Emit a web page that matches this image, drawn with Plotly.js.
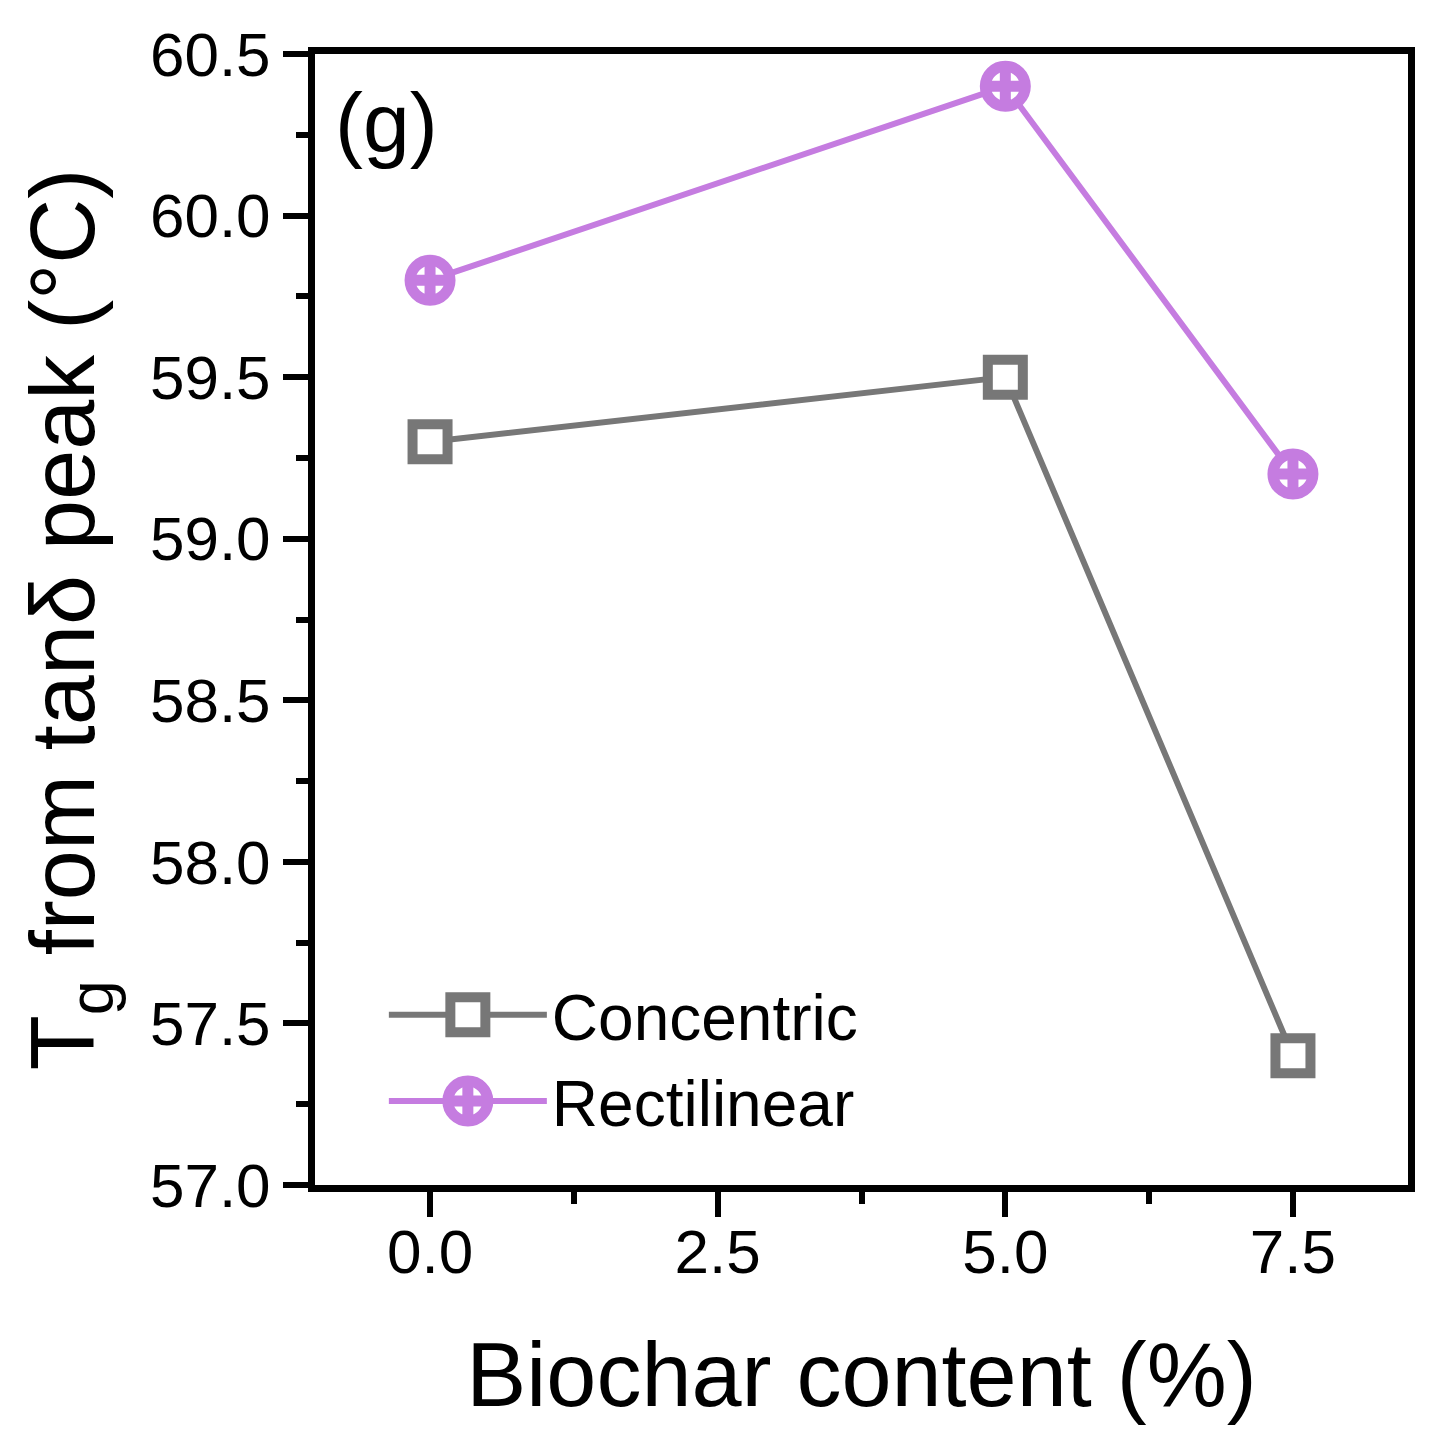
<!DOCTYPE html>
<html>
<head>
<meta charset="utf-8">
<script src="https://cdn.plot.ly/plotly-3.0.1.min.js"></script>
<style>html,body{margin:0;padding:0;background:#fff;}#chart{width:1436px;height:1440px;}</style>
</head>
<body>
<div id="chart"></div>
<script>
const biocharContent = [0, 5, 7.5];
const concentric = [59.3, 59.5, 57.4];
const rectilinear = [59.8, 60.4, 59.2];
const xTickVals = [0, 2.5, 5, 7.5];
const xTickText = ['0.0', '2.5', '5.0', '7.5'];
const yTickVals = [57.0, 57.5, 58.0, 58.5, 59.0, 59.5, 60.0, 60.5];
const yTickText = ['57.0', '57.5', '58.0', '58.5', '59.0', '59.5', '60.0', '60.5'];

const FONT = 'Liberation Sans, Arial, sans-serif';
const gray = '#777777';
const purple = '#C57CE0';

const traces = [
  {
    x: biocharContent, y: concentric, name: 'Concentric', type: 'scatter', mode: 'lines+markers',
    line: {color: gray, width: 6},
    marker: {symbol: 'square', size: 35, color: '#ffffff', line: {width: 10, color: gray}}
  },
  {
    x: biocharContent, y: rectilinear, name: 'Rectilinear', type: 'scatter', mode: 'lines+markers',
    line: {color: purple, width: 6},
    marker: {symbol: 'circle-cross', size: 40, color: '#ffffff', line: {width: 11, color: purple}}
  }
];

const layout = {
  width: 1436, height: 1440,
  margin: {l: 315, r: 28, t: 54, b: 255},
  paper_bgcolor: '#fff', plot_bgcolor: '#fff',
  font: {family: FONT, color: '#000', size: 62},
  showlegend: true,
  xaxis: {
    range: [-1, 8.5],
    tickvals: xTickVals, ticktext: xTickText,
    ticks: 'outside', ticklen: 25, tickwidth: 6, tickcolor: '#000',
    minor: {dtick: 1.25, tick0: 0, ticks: 'outside', ticklen: 12, tickwidth: 6, tickcolor: '#000'},
    showline: true, linewidth: 7, linecolor: '#000', mirror: true,
    showgrid: false, zeroline: false,
    tickfont: {family: FONT, size: 62, color: '#000'},
    ticklabelstandoff: -18,
    title: {text: 'Biochar content (%)', font: {family: FONT, size: 90, color: '#000'}, standoff: 60}
  },
  yaxis: {
    range: [57.0, 60.5],
    tickvals: yTickVals, ticktext: yTickText,
    ticks: 'outside', ticklen: 25, tickwidth: 6, tickcolor: '#000',
    minor: {dtick: 0.25, tick0: 57, ticks: 'outside', ticklen: 12, tickwidth: 6, tickcolor: '#000'},
    showline: true, linewidth: 7, linecolor: '#000', mirror: true,
    showgrid: false, zeroline: false,
    tickfont: {family: FONT, size: 62, color: '#000'},
    ticklabelstandoff: 0,
    title: {text: 'T<sub>g</sub> from tanδ peak (°C)', font: {family: FONT, size: 90, color: '#000'}, standoff: 28}
  },
  legend: {
    x: 0.063, y: 0.193, xanchor: 'left', yanchor: 'top',
    bgcolor: 'rgba(0,0,0,0)', borderwidth: 0,
    font: {family: FONT, size: 64, color: '#000'},
    itemwidth: 158, tracegroupgap: 0
  },
  annotations: [
    {xref: 'paper', yref: 'paper', x: 0.0165, y: 0.939, xanchor: 'left', yanchor: 'middle',
     text: '(g)', showarrow: false, font: {family: FONT, size: 84, color: '#000'}}
  ]
};

function enlargeLegendMarkers(gd) {
  const plotTraces = gd.querySelectorAll('.scatterlayer .trace');
  const legTraces = gd.querySelectorAll('.legend .traces');
  legTraces.forEach(function (lt, i) {
    if (!plotTraces[i]) return;
    const src = plotTraces[i].querySelector('.points path');
    const dst = lt.querySelector('.legendpoints path.scatterpts');
    if (src && dst) {
      dst.setAttribute('d', src.getAttribute('d'));
      dst.style.strokeWidth = src.style.strokeWidth;
      dst.style.stroke = src.style.stroke;
      dst.style.fill = src.style.fill;
      dst.style.fillOpacity = src.style.fillOpacity;
    }
    const ln = lt.querySelector('.js-line');
    const srcLine = plotTraces[i].querySelector('.js-line');
    if (ln && srcLine) ln.style.strokeWidth = srcLine.style.strokeWidth;
  });
}

Plotly.newPlot('chart', traces, layout, {displayModeBar: false, staticPlot: true}).then(function (gd) {
  enlargeLegendMarkers(gd);
});
</script>
</body>
</html>
